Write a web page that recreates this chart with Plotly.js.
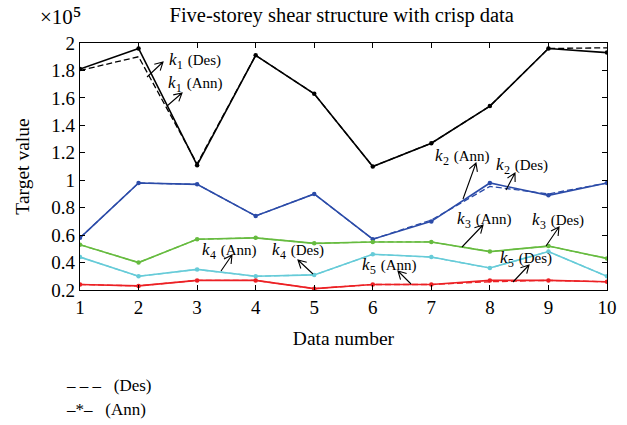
<!DOCTYPE html>
<html><head><meta charset="utf-8">
<script src="https://cdn.plot.ly/plotly-3.0.1.min.js"></script>
<style>html,body{margin:0;padding:0;background:#fff}#plot{width:627px;height:425px}</style>
</head><body><div id="plot"></div>
<script>
const dataNumber = [1,2,3,4,5,6,7,8,9,10];
const k1Ann = [1.81,1.96,1.11,1.91,1.63,1.10,1.27,1.54,1.96,1.93];
const k1Des = [1.80,1.90,1.12,1.91,1.63,1.10,1.27,1.54,1.96,1.965];
const k2Ann = [0.58,0.98,0.97,0.74,0.90,0.57,0.70,0.98,0.89,0.98];
const k2Des = [0.58,0.98,0.97,0.74,0.90,0.57,0.71,0.955,0.90,0.98];
const k3Ann = [0.53,0.40,0.57,0.58,0.54,0.55,0.55,0.48,0.52,0.43];
const k3Des = [0.53,0.40,0.57,0.58,0.54,0.55,0.55,0.48,0.52,0.43];
const k4Ann = [0.44,0.30,0.35,0.30,0.31,0.46,0.44,0.36,0.48,0.30];
const k4Des = [0.44,0.30,0.35,0.30,0.31,0.46,0.44,0.36,0.48,0.30];
const k5Ann = [0.24,0.23,0.27,0.27,0.21,0.24,0.24,0.27,0.27,0.26];
const k5Des = [0.24,0.23,0.27,0.27,0.21,0.24,0.24,0.26,0.27,0.26];
const yTicks = [0.2,0.4,0.6,0.8,1,1.2,1.4,1.6,1.8,2];
const yTickText = ['0.2','0.4','0.6','0.8','1','1.2','1.4','1.6','1.8','2'];
const subDigits = {'1':'₁','2':'₂','3':'₃','4':'₄','5':'₅'};

const colors = {k1:'#000000', k2:'#2b4ba8', k3:'#66bb3f', k4:'#66cbd8', k5:'#ec2024'};
const FONT = 'Liberation Serif, DejaVu Serif, serif';

const series = [
  ['k1', k1Ann, k1Des], ['k2', k2Ann, k2Des], ['k3', k3Ann, k3Des],
  ['k4', k4Ann, k4Des], ['k5', k5Ann, k5Des]
];
const traces = [];
series.forEach(([name, ann, des]) => {
  traces.push({x: dataNumber, y: des, mode: 'lines', name: name + ' (Des)',
    line: {color: colors[name], width: 1.3, dash: '6px,3px'}, showlegend: false});
  traces.push({x: dataNumber, y: ann, mode: 'lines+markers', name: name + ' (Ann)',
    line: {color: colors[name], width: 1.6},
    marker: {symbol: 'circle', size: 4.5, color: colors[name]}, showlegend: false});
});

const W = 627, H = 425, ML = 80, MR = 20, MT = 43, MB = 135;
const PW = W - ML - MR, PH = H - MT - MB;
const XR = [1, 10], YR = [0.2, 2];
const toX = px => XR[0] + (px - ML) / PW * (XR[1] - XR[0]);
const toY = py => YR[1] - (py - MT) / PH * (YR[1] - YR[0]);

// label placement in pixels: [sub, tag, textCx, textCy, headPx, headPy, tailPx, tailPy]
const labels = [
  ['1','Des',195,58,163,62,147,77],
  ['1','Ann',195,81,182,93,167,106],
  ['2','Ann',462,154,476,163,463,199],
  ['2','Des',522,163,515,173,506,190],
  ['3','Ann',484,217,483,225,462,247],
  ['3','Des',558,218,559,227,546,246],
  ['4','Ann',229,248,232,255,221,271],
  ['4','Des',298,248,298,260,313,274],
  ['5','Ann',389,263,398,271,411,284],
  ['5','Des',526,256,529,265,513,282]
];
const annotations = [];
const shapes = [];
labels.forEach(l => {
  annotations.push({x: toX(l[2]), y: toY(l[3]), xref: 'x', yref: 'y', showarrow: false,
    text: '<i>k</i><span style="font-size:20px">' + subDigits[l[0]] + '</span> <span style="font-size:15px">(' + l[1] + ')</span>',
    font: {family: FONT, size: 17, color: '#000'}});
  const [hx, hy, tx, ty] = [l[4], l[5], l[6], l[7]];
  const ang = Math.atan2(ty - hy, tx - hx);
  const len = 9, spread = 0.5;
  const p1 = [hx + len * Math.cos(ang + spread), hy + len * Math.sin(ang + spread)];
  const p2 = [hx + len * Math.cos(ang - spread), hy + len * Math.sin(ang - spread)];
  const pt = p => toX(p[0]) + ',' + toY(p[1]);
  shapes.push({type: 'path', xref: 'x', yref: 'y', line: {color: '#000', width: 1.1},
    path: 'M' + pt([tx, ty]) + ' L' + pt([hx, hy]) + ' M' + pt(p1) + ' L' + pt([hx, hy]) + ' L' + pt(p2)});
});
const paperText = (px, py, text, size, anchor) => ({
  x: (px - ML) / PW, y: 1 - (py - MT) / PH, xref: 'paper', yref: 'paper',
  xanchor: anchor || 'left', yanchor: 'middle', text: text, showarrow: false,
  font: {family: FONT, size: size, color: '#000'}});
annotations.push(paperText(38, 16, '×10<span style="font-size:25px">⁵</span>', 21));
annotations.push(paperText(64, 385, '– – –   (Des)', 17));
annotations.push(paperText(64, 409, '–*–   (Ann)', 17));

const layout = {
  width: W, height: H,
  margin: {l: ML, r: MR, t: MT, b: MB},
  paper_bgcolor: '#fff', plot_bgcolor: '#fff',
  font: {family: FONT, size: 19, color: '#000000'},
  title: {text: 'Five-storey shear structure with crisp data', x: 0.545, xanchor: 'center',
    y: 0.964, yanchor: 'middle', font: {family: FONT, size: 20.5, color: '#000000'}},
  xaxis: {range: XR, tickvals: dataNumber, ticks: 'inside', ticklen: 5, tickcolor: '#000',
    showline: true, mirror: 'ticks', linecolor: '#000', linewidth: 1.3, showgrid: false, zeroline: false,
    tickfont: {family: FONT, size: 19, color: '#000000'},
    title: {text: 'Data number', font: {family: FONT, size: 19.5, color: '#000000'}, standoff: 14}},
  yaxis: {range: YR, tickvals: yTicks, ticktext: yTickText, ticks: 'inside', ticklen: 5,
    tickcolor: '#000', showline: true, mirror: 'ticks', linecolor: '#000', linewidth: 1.3,
    showgrid: false, zeroline: false, tickfont: {family: FONT, size: 19, color: '#000000'},
    title: {text: 'Target value', font: {family: FONT, size: 19.5, color: '#000000'}, standoff: 16}},
  annotations: annotations,
  shapes: shapes,
  showlegend: false
};
Plotly.newPlot('plot', traces, layout, {displayModeBar: false, staticPlot: true});
</script></body></html>
